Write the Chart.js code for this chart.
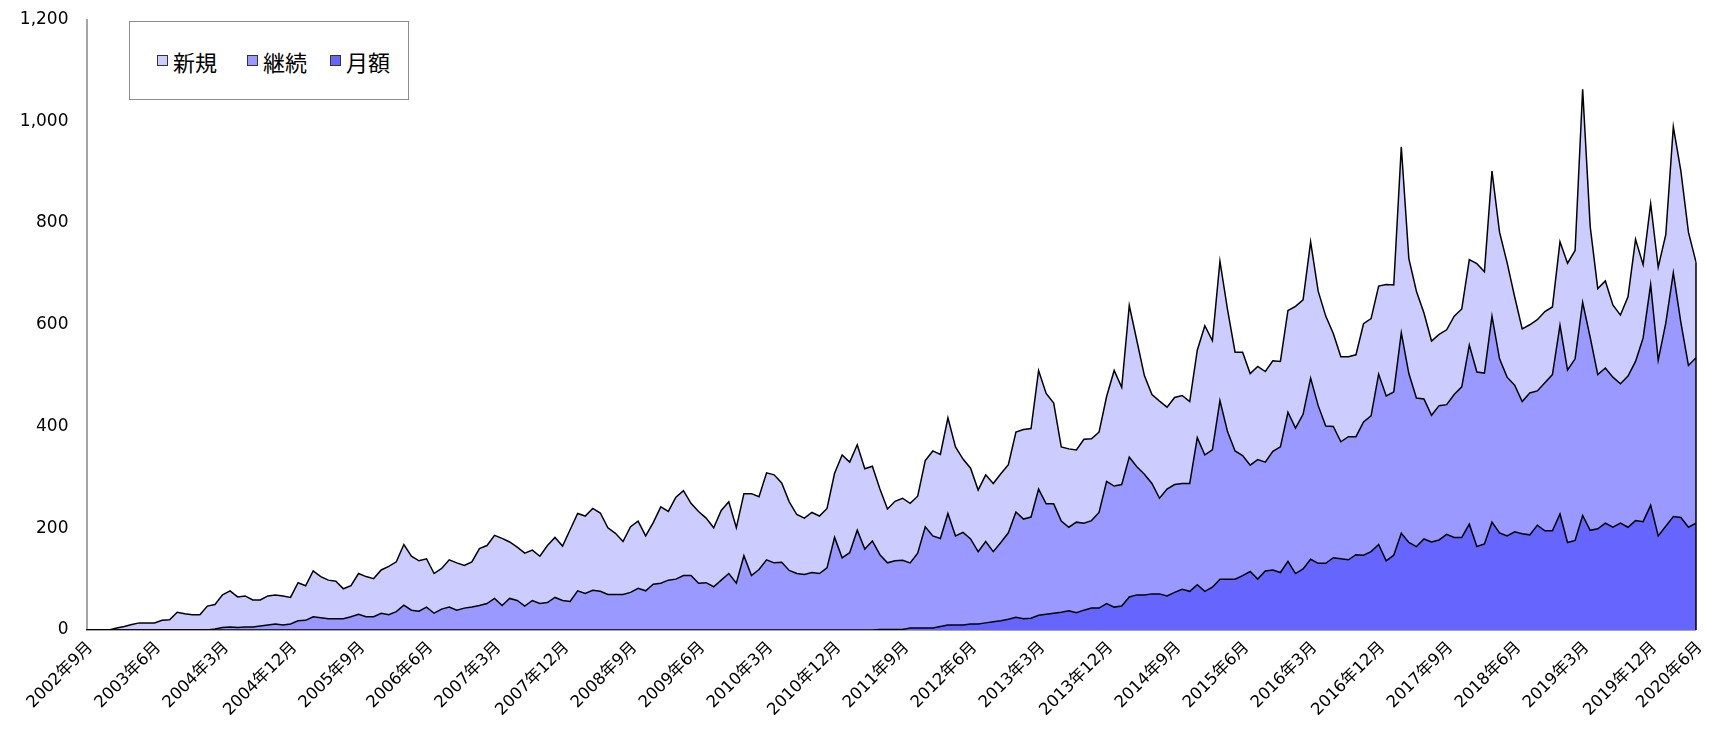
<!DOCTYPE html>
<html>
<head>
<meta charset="utf-8">
<script src="https://cdn.jsdelivr.net/npm/chart.js@4.4.1/dist/chart.umd.min.js"></script>
<style>
  html, body { margin: 0; padding: 0; background: #fff; }
  #wrap { position: relative; width: 1718px; height: 731px; }
  #legend {
    position: absolute; left: 129px; top: 21px; width: 278px; height: 77px;
    border: 1px solid #8c8c8c; background: #fff;
    font-family: 'Noto Sans CJK JP', sans-serif; font-size: 22px; color: #000;
  }
  .item { position: absolute; top: 0; height: 77px; display: flex; align-items: center; }
  .box { width: 9px; height: 9px; border: 1px solid #333; margin-right: 5px; }
</style>
</head>
<body>
<div id="wrap">
  <canvas id="myChart" width="1718" height="731"></canvas>
  <div id="legend"></div>
</div>
<script>
// 2002年9月 〜 2020年6月 (monthly)
const startYear = 2002, startMonth = 9, monthCount = 214;
const months = [];
for (let k = 0; k < monthCount; k++) {
    const m = startMonth - 1 + k;
    months.push((startYear + Math.floor(m / 12)) + "年" + (m % 12 + 1) + "月");
}

const tickLabels = ["2002年9月", "2003年6月", "2004年3月", "2004年12月", "2005年9月", "2006年6月",
    "2007年3月", "2007年12月", "2008年9月", "2009年6月", "2010年3月", "2010年12月", "2011年9月",
    "2012年6月", "2013年3月", "2013年12月", "2014年9月", "2015年6月", "2016年3月", "2016年12月",
    "2017年9月", "2018年6月", "2019年3月", "2019年12月", "2020年6月"];

const getsugaku = [
    0,0,0,0,
    0,0,0,0,0,0,0,0,0,0,0,0,
    0,0,0,0,0,0,0,0,0,0,0,0,
    0,0,0,0,0,0,0,0,0,0,0,0,
    0,0,0,0,0,0,0,0,0,0,0,0,
    0,0,0,0,0,0,0,0,0,0,0,0,
    0,0,0,0,0,0,0,0,0,0,0,0,
    0,0,0,0,0,0,0,0,0,0,0,0,
    0,0,0,0,0,0,0,0,0,0,0,0,
    0,0,0,0,0,1,1,1,1,4,4,4,
    4,7,10,10,10,12,12,14,16,18,21,25,
    22,23,29,31,33,35,38,34,39,43,43,52,
    45,47,65,69,69,71,71,67,74,80,76,89,
    76,84,100,100,100,107,115,100,116,118,113,135,
    111,120,139,131,131,142,140,138,148,147,154,168,
    136,147,190,172,164,179,173,177,188,182,182,208,
    164,169,212,191,185,193,189,187,206,195,195,228,
    172,176,225,196,199,210,202,210,202,215,213,245,
    185,204,223,221,202,210
];

const keizoku = [
    0,0,0,0,
    0,0,0,0,0,0,0,0,0,0,0,0,
    0,2,5,6,5,6,6,8,10,12,10,12,
    18,19,26,24,22,22,22,26,31,26,26,33,
    30,36,49,39,37,45,33,41,45,39,43,45,
    48,52,62,48,62,58,47,58,52,54,64,58,
    56,77,72,78,76,70,70,70,74,82,77,90,
    92,98,100,107,107,92,93,85,98,111,92,146,
    107,119,138,132,133,117,111,109,113,111,122,182,
    142,152,196,159,175,147,131,135,136,128,147,199,
    181,173,219,175,182,167,142,160,138,154,170,207,
    196,199,248,217,215,179,164,178,171,172,188,240,
    238,239,275,252,237,217,188,210,212,208,212,289,
    268,270,351,290,252,236,209,235,214,233,247,293,
    286,304,356,310,270,258,230,242,232,262,267,335,
    324,321,394,332,292,275,249,264,255,281,296,352,
    343,336,405,342,312,288,260,279,264,291,307,371,
    339,357,419,379,303,305,295,274,297,313,361,434,
    345,399,479,383,318,325
];

const shinki = [
    0,0,0,0,
    4,7,11,14,14,14,19,20,35,32,30,30,
    47,48,64,71,60,61,53,51,57,57,57,52,
    75,68,90,81,76,74,59,61,80,79,75,85,
    95,98,119,106,99,95,78,80,93,93,84,89,
    112,114,124,132,111,105,104,99,93,112,118,107,
    141,152,152,161,154,131,120,104,129,132,108,121,
    150,135,161,167,142,141,127,116,137,141,109,122,
    161,143,171,173,156,135,116,111,118,113,117,126,
    202,178,168,158,147,129,106,117,122,117,112,130,
    167,165,188,175,144,139,121,131,134,135,134,157,
    176,174,233,217,198,146,154,142,165,161,158,167,
    227,191,298,248,194,175,191,161,171,173,161,172,
    254,215,274,240,194,203,180,183,178,178,168,200,
    239,225,268,225,216,183,167,157,161,193,191,173,
    219,210,366,226,210,169,146,140,147,154,153,168,
    213,199,285,249,225,174,143,134,140,140,133,164,
    210,213,419,218,169,171,142,135,156,240,144,159,
    183,174,287,298,262,188
];

const seriesNames = ["新規", "継続", "月額"];
const seriesColors = ["#ccccff", "#9999ff", "#6666ff"];

// legend box (drawn as html, sits inside the plot like the original)
const legendEl = document.getElementById("legend");
const itemLeft = [27, 117, 200];
seriesNames.forEach((name, k) => {
    const it = document.createElement("div");
    it.className = "item";
    it.style.left = itemLeft[k] + "px";
    it.innerHTML = '<span class="box" style="background:' + seriesColors[k] + '"></span>' + name;
    legendEl.appendChild(it);
});

// hide the black outline where the stack lies on the zero line
function segColor(ctx) {
    const base = ctx.chart.scales.y.getPixelForValue(0);
    if (Math.abs(ctx.p0.y - base) < 0.5 && Math.abs(ctx.p1.y - base) < 0.5) return "rgba(0,0,0,0)";
    return "#000";
}

// closing edge on the right side of the areas
const edgeLine = {
    id: "edgeLine",
    afterDatasetsDraw(chart) {
        const {ctx, scales: {x, y}} = chart;
        const last = months.length - 1;
        const total = getsugaku[last] + keizoku[last] + shinki[last];
        const px = x.getPixelForValue(last);
        ctx.save();
        ctx.strokeStyle = "#000";
        ctx.lineWidth = 1.5;
        ctx.beginPath();
        ctx.moveTo(px, y.getPixelForValue(total));
        ctx.lineTo(px, y.getPixelForValue(0));
        ctx.stroke();
        ctx.restore();
    }
};

const fontFamily = "'DejaVu Sans', 'Noto Sans CJK JP', sans-serif";

new Chart("myChart", {
    type: "line",
    data: {
        labels: months,
        datasets: [{
            label: "月額",
            data: getsugaku,
            backgroundColor: seriesColors[2],
            fill: "origin"
        }, {
            label: "継続",
            data: keizoku,
            backgroundColor: seriesColors[1],
            fill: "-1"
        }, {
            label: "新規",
            data: shinki,
            backgroundColor: seriesColors[0],
            fill: "-1"
        }]
    },
    options: {
        responsive: false,
        animation: false,
        devicePixelRatio: 1,
        layout: { padding: { left: 0, right: 21, top: 19.5, bottom: 0 } },
        elements: {
            point: { radius: 0 },
            line: { borderColor: "#000", borderWidth: 1.5, tension: 0, segment: { borderColor: segColor } }
        },
        plugins: {
            legend: { display: false },
            tooltip: { enabled: false }
        },
        scales: {
            x: {
                z: 1,
                grid: { display: false, drawTicks: false },
                border: { display: true, color: "#a6a6a6", width: 2 },
                afterFit: (scale) => { scale.height = 101; },
                ticks: {
                    autoSkip: false,
                    maxRotation: 45,
                    minRotation: 45,
                    padding: 8,
                    labelOffset: 4,
                    color: "#000",
                    font: { family: fontFamily, size: 16.5 },
                    callback: function (value) {
                        const lab = this.getLabelForValue(value);
                        return tickLabels.includes(lab) ? lab : "";
                    }
                }
            },
            y: {
                z: 1,
                stacked: true,
                min: 0,
                max: 1200,
                grid: { display: false, drawTicks: false },
                border: { display: true, color: "#a6a6a6", width: 2 },
                afterFit: (scale) => {
                    scale.width = 86.5;
                    scale.paddingTop = 0;
                    scale.paddingBottom = 0;
                },
                ticks: {
                    stepSize: 200,
                    padding: 18,
                    color: "#000",
                    font: { family: fontFamily, size: 17 },
                    callback: (v) => v.toLocaleString("en-US")
                }
            }
        }
    },
    plugins: [edgeLine]
});
</script>
</body>
</html>
